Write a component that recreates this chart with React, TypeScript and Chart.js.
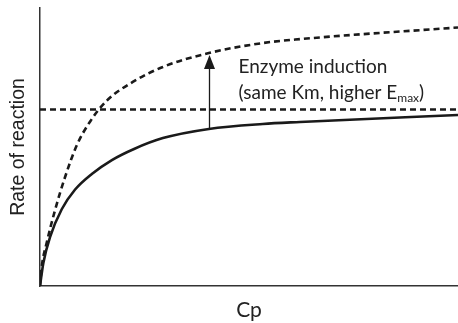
import React, { useEffect, useRef } from "react";
import { Chart, registerables } from "chart.js";

Chart.register(...registerables);

// Solid curve (baseline enzyme)
const solidCp = [0, 0.8, 2.4, 5.2, 8.4, 12.4, 17.2, 22.5, 29.4, 40.4, 53.3, 62.2, 100];
const solidRate = [0, 8.3, 17.6, 27.6, 34.7, 40.3, 45.3, 49.3, 53.2, 56.5, 58.3, 59.0, 61.5];

// Dashed curve (after enzyme induction)
const dashedCp = [0, 0.4, 1.6, 3.6, 6.0, 8.8, 12.0, 16.0, 22.2, 29.4, 40.4, 53.3, 62.2, 100];
const dashedRate = [0, 6.8, 15.5, 27.3, 39.2, 50.6, 59.2, 66.7, 73.4, 78.8, 83.8, 87.4, 88.8, 93.0];

// Horizontal dashed Emax line
const emaxCp = [0, 100];
const emaxRate = [63.5, 63.5];

// Arrow
const arrowCp = 40.4;
const arrowFrom = 56.8;
const arrowTo = 83.1;

// Annotation
const labelCp = 47.5;
const labelRate = 76.6;
const labelLine1 = "Enzyme induction";
const labelLine2 = "(same Km, higher E";
const labelSub = "max";
const labelEnd = ")";

const xTitle = "Cp";
const yTitle = "Rate of reaction";

const toXY = (xs: number[], ys: number[]) => xs.map((x, i) => ({ x, y: ys[i] }));

const annotationPlugin = {
  id: "annot",
  afterDatasetsDraw(chart: any) {
    const { ctx, scales } = chart;
    const xs = scales.x;
    const ys = scales.y;
    // arrow
    const ax = Math.round(xs.getPixelForValue(arrowCp)) + 0.5;
    const y0 = ys.getPixelForValue(arrowFrom);
    const y1 = ys.getPixelForValue(arrowTo);
    ctx.save();
    ctx.strokeStyle = "#1a1a1a";
    ctx.fillStyle = "#1a1a1a";
    ctx.lineWidth = 1.3;
    ctx.beginPath();
    ctx.moveTo(ax, y0);
    ctx.lineTo(ax, y1 + 12);
    ctx.stroke();
    ctx.beginPath();
    ctx.moveTo(ax, y1);
    ctx.lineTo(ax - 5.5, y1 + 14);
    ctx.lineTo(ax + 5.5, y1 + 14);
    ctx.closePath();
    ctx.fill();

    // text
    const tx = xs.getPixelForValue(labelCp);
    const ty = ys.getPixelForValue(labelRate);
    ctx.textBaseline = "alphabetic";
    ctx.textAlign = "left";
    ctx.fillStyle = "#222";
    ctx.font = "19px Lato";
    ctx.fillText(labelLine1, tx, ty);
    const ty2 = ty + 26;
    ctx.fillText(labelLine2, tx, ty2);
    const w = ctx.measureText(labelLine2).width;
    ctx.font = "12px Lato";
    ctx.fillText(labelSub, tx + w, ty2 + 3);
    const w2 = ctx.measureText(labelSub).width;
    ctx.font = "19px Lato";
    ctx.fillText(labelEnd, tx + w + w2, ty2);
    ctx.restore();
  },
};

export default function App() {
  const ref = useRef<HTMLCanvasElement | null>(null);
  useEffect(() => {
    document.body.style.margin = "0";
    const canvas = ref.current;
    if (!canvas) return;
    const chart = new Chart(canvas, {
      type: "line",
      data: {
        datasets: [
          {
            data: toXY(solidCp, solidRate),
            borderColor: "#1a1a1a",
            borderWidth: 2.6,
            pointRadius: 0,
            cubicInterpolationMode: "monotone",
            fill: false,
          },
          {
            data: toXY(dashedCp, dashedRate),
            borderColor: "#1a1a1a",
            borderWidth: 2.6,
            borderDash: [6, 4],
            pointRadius: 0,
            cubicInterpolationMode: "monotone",
            fill: false,
          },
          {
            data: toXY(emaxCp, emaxRate),
            borderColor: "#1a1a1a",
            borderWidth: 2.4,
            borderDash: [6, 4],
            pointRadius: 0,
            fill: false,
          },
        ],
      },
      options: {
        animation: false,
        responsive: false,
        events: [],
        layout: { padding: { top: 8, right: 0, left: 0, bottom: 0 } },
        plugins: { legend: { display: false }, tooltip: { enabled: false } },
        scales: {
          x: {
            type: "linear",
            min: 0,
            max: 100,
            ticks: { display: false },
            grid: { display: false },
            border: { display: true, color: "#333", width: 1.5 },
            title: {
              display: true,
              text: xTitle,
              color: "#222",
              font: { family: "Lato", size: 21 },
              padding: { top: 0, bottom: 0 },
            },
            afterFit: (s: any) => {
              s.height = 37;
            },
          },
          y: {
            type: "linear",
            min: 0,
            max: 100,
            ticks: { display: false },
            grid: { display: false },
            border: { display: true, color: "#333", width: 1.5 },
            title: {
              display: true,
              text: yTitle,
              color: "#222",
              font: { family: "Liberation Sans", size: 19.5 },
              padding: { top: 6.5, bottom: 0 },
            },
            afterFit: (s: any) => {
              s.width = 40;
            },
          },
        },
      } as any,
      plugins: [annotationPlugin],
    });
    return () => chart.destroy();
  }, []);
  return (
    <div style={{ width: 458, height: 323 }}>
      <canvas ref={ref} width={458} height={323} />
    </div>
  );
}
